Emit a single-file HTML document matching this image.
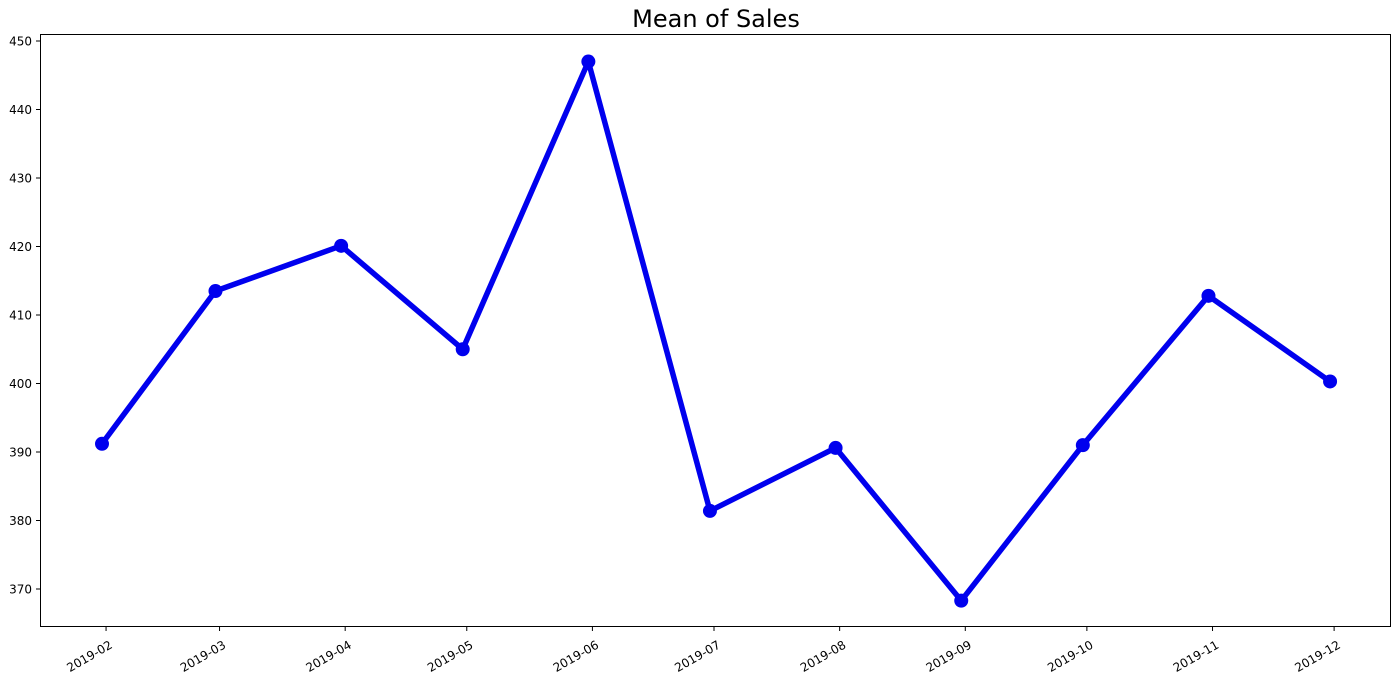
<!DOCTYPE html>
<html><head><meta charset="utf-8"><style>
body{margin:0;background:#fff;}
svg{display:block;font-family:"DejaVu Sans","Liberation Sans",sans-serif;}
</style></head><body>
<svg id="chart" width="1400" height="680" xmlns="http://www.w3.org/2000/svg">
<text x="716" y="27" font-size="24" text-anchor="middle" fill="#000">Mean of Sales</text>
<g id="axes"></g>
<g id="marks"></g>
<rect x="40.5" y="34.5" width="1350" height="592" fill="none" stroke="#000" stroke-width="1"/>
</svg>
<script>
const dates = ["2019-01-31","2019-02-28","2019-03-31","2019-04-30","2019-05-31","2019-06-30","2019-07-31","2019-08-31","2019-09-30","2019-10-31","2019-11-30"];
const sales = [391.2, 413.5, 420.1, 405.0, 447.0, 381.4, 390.6, 368.3, 391.0, 412.8, 400.3];
const xTicks = ["2019-02","2019-03","2019-04","2019-05","2019-06","2019-07","2019-08","2019-09","2019-10","2019-11","2019-12"];
const yTicks = [370, 380, 390, 400, 410, 420, 430, 440, 450];

const ns = "http://www.w3.org/2000/svg";
const DAY = 86400000;
const t0 = Date.UTC(2019,0,31);
const pxPerDay = 4.053;
function xScale(s){ const p=s.split("-"); const t=Date.UTC(+p[0],+p[1]-1,p[2]?+p[2]:1); return 102 + (t-t0)/DAY*pxPerDay; }
function yScale(v){ return 589 - (v-370)*6.85; }

const axes = document.getElementById("axes");
yTicks.forEach(v=>{
  const y=yScale(v);
  const l=document.createElementNS(ns,"line");
  
  
  l.setAttribute("x1",36);l.setAttribute("x2",40.5);l.setAttribute("y1",y);l.setAttribute("y2",y);l.setAttribute("stroke","#000");
  axes.appendChild(l);
  const t=document.createElementNS(ns,"text");
  
  
  t.setAttribute("x",32);t.setAttribute("y",y+4.5);t.setAttribute("font-size","12");t.setAttribute("text-anchor","end");
  t.textContent=v; axes.appendChild(t);
});
xTicks.forEach(s=>{
  const x=xScale(s);
  const l=document.createElementNS(ns,"line");
  
  
  l.setAttribute("x1",x);l.setAttribute("x2",x);l.setAttribute("y1",627);l.setAttribute("y2",631);l.setAttribute("stroke","#000");
  axes.appendChild(l);
  const t=document.createElementNS(ns,"text");
  
  
  t.setAttribute("font-size","12");t.setAttribute("text-anchor","end");
  t.setAttribute("transform","translate("+(x+3)+",640) rotate(-30)");
  t.setAttribute("dy","0.7em");
  t.textContent=s; axes.appendChild(t);
});

const marks=document.getElementById("marks");
const pts=dates.map((d,i)=>xScale(d)+","+yScale(sales[i])).join(" ");
const pl=document.createElementNS(ns,"polyline");


pl.setAttribute("points",pts);pl.setAttribute("fill","none");pl.setAttribute("stroke","#0000ee");pl.setAttribute("stroke-width","5.5");pl.setAttribute("stroke-linejoin","round");
marks.appendChild(pl);
dates.forEach((d,i)=>{
  const c=document.createElementNS(ns,"circle");
  
  
  c.setAttribute("cx",xScale(d));c.setAttribute("cy",yScale(sales[i]));c.setAttribute("r",7);c.setAttribute("fill","#0000ee");
  marks.appendChild(c);
});
</script>
</body></html>
